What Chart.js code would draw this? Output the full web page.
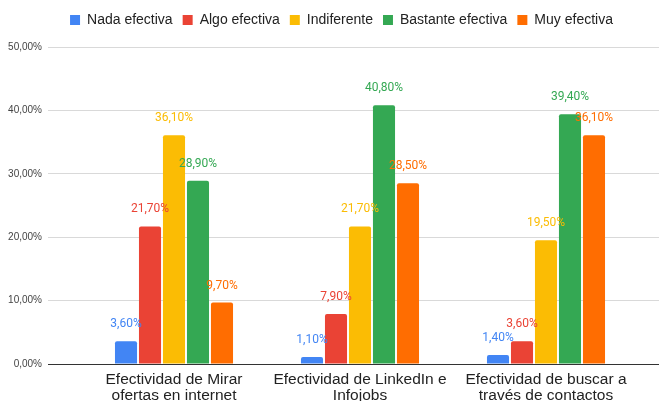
<!DOCTYPE html>
<html>
<head>
<meta charset="utf-8">
<script src="https://cdn.jsdelivr.net/npm/chart.js@4"></script>
<style>
  html, body { margin: 0; padding: 0; background: #fff; }
  #wrap { width: 659px; height: 401px; }
</style>
</head>
<body>
<div id="wrap"><canvas id="chart"></canvas></div>
<script>
// categories and series (percentages)
const categories = [
  ["Efectividad de Mirar", "ofertas en internet"],
  ["Efectividad de LinkedIn e", "Infojobs"],
  ["Efectividad de buscar a", "través de contactos"]
];
const seriesNames = ["Nada efectiva", "Algo efectiva", "Indiferente", "Bastante efectiva", "Muy efectiva"];
const nada = [3.6, 1.1, 1.4];
const algo = [21.7, 7.9, 3.6];
const indiferente = [36.1, 21.7, 19.5];
const bastante = [28.9, 40.8, 39.4];
const muy = [9.7, 28.5, 36.1];
const yTicks = [0, 10, 20, 30, 40, 50];

const colors = ["#4285F4", "#EA4335", "#FBBC04", "#34A853", "#FF6D01"];
const allSeries = [nada, algo, indiferente, bastante, muy];

function fmt(v) {
  return v.toFixed(2).replace(".", ",") + "%";
}

// draws value labels above each bar, in the bar colour
const valueLabels = {
  id: "valueLabels",
  afterDatasetsDraw(chart) {
    const ctx = chart.ctx;
    ctx.save();
    ctx.font = "12px Roboto, 'Liberation Sans', Arial, sans-serif";
    ctx.textAlign = "center";
    ctx.textBaseline = "bottom";
    chart.data.datasets.forEach((ds, i) => {
      const meta = chart.getDatasetMeta(i);
      meta.data.forEach((bar, j) => {
        ctx.fillStyle = ds.backgroundColor;
        ctx.fillText(fmt(ds.data[j]), bar.x, bar.y - 11);
      });
    });
    ctx.restore();
  }
};

// extra space under the legend, and nudge it right
const legendGap = {
  id: "legendGap",
  beforeInit(chart) {
    const fit = chart.legend.fit;
    chart.legend.fit = function () {
      fit.bind(chart.legend)();
      this.height += 10;
    };
  },
  afterLayout(chart) {
    chart.legend.left += 12;
    chart.legend.right += 12;
  }
};

const gridCol = ctx => (ctx.tick && ctx.tick.value === 0 ? "#333" : "#d9d9d9");
const setTicks = scale => { scale.ticks = yTicks.map(v => ({ value: v })); };

new Chart(document.getElementById("chart"), {
  type: "bar",
  data: {
    labels: categories,
    datasets: allSeries.map((d, i) => ({
      label: seriesNames[i],
      data: d,
      backgroundColor: colors[i],
      borderRadius: 2,
      borderSkipped: "bottom",
      categoryPercentage: 0.645,
      barPercentage: 0.92
    }))
  },
  options: {
    responsive: true,
    maintainAspectRatio: false,
    animation: false,
    layout: { padding: { left: 0, right: 0, top: 3, bottom: 0 } },
    plugins: {
      legend: {
        position: "top",
        labels: {
          boxWidth: 10,
          boxHeight: 10,
          padding: 10,
          color: "#222",
          font: { family: "'Liberation Sans', Arial, sans-serif", size: 14 }
        }
      },
      tooltip: { enabled: false }
    },
    scales: {
      x: {
        grid: { display: false },
        border: { display: false },
        afterFit(scale) { scale.height = 37; },
        ticks: {
          color: "#222",
          font: { family: "'Liberation Sans', Arial, sans-serif", size: 15.5, lineHeight: 1.03 },
          padding: 0,
          maxRotation: 0
        }
      },
      y: {
        min: 0,
        max: 50,
        afterBuildTicks: setTicks,
        afterFit(scale) { scale.width = 81; },
        grid: { color: gridCol, tickColor: gridCol, tickLength: 33 },
        border: { display: false },
        ticks: {
          color: "#444",
          padding: 6,
          font: { family: "'Liberation Sans', Arial, sans-serif", size: 10 },
          callback: v => fmt(v)
        }
      },
      y2: {
        position: "right",
        min: 0,
        max: 50,
        afterBuildTicks: setTicks,
        afterFit(scale) { scale.width = 20; },
        grid: { drawOnChartArea: false, tickColor: gridCol, tickLength: 20 },
        border: { display: false },
        ticks: { display: false }
      }
    }
  },
  plugins: [valueLabels, legendGap]
});
</script>
</body>
</html>
